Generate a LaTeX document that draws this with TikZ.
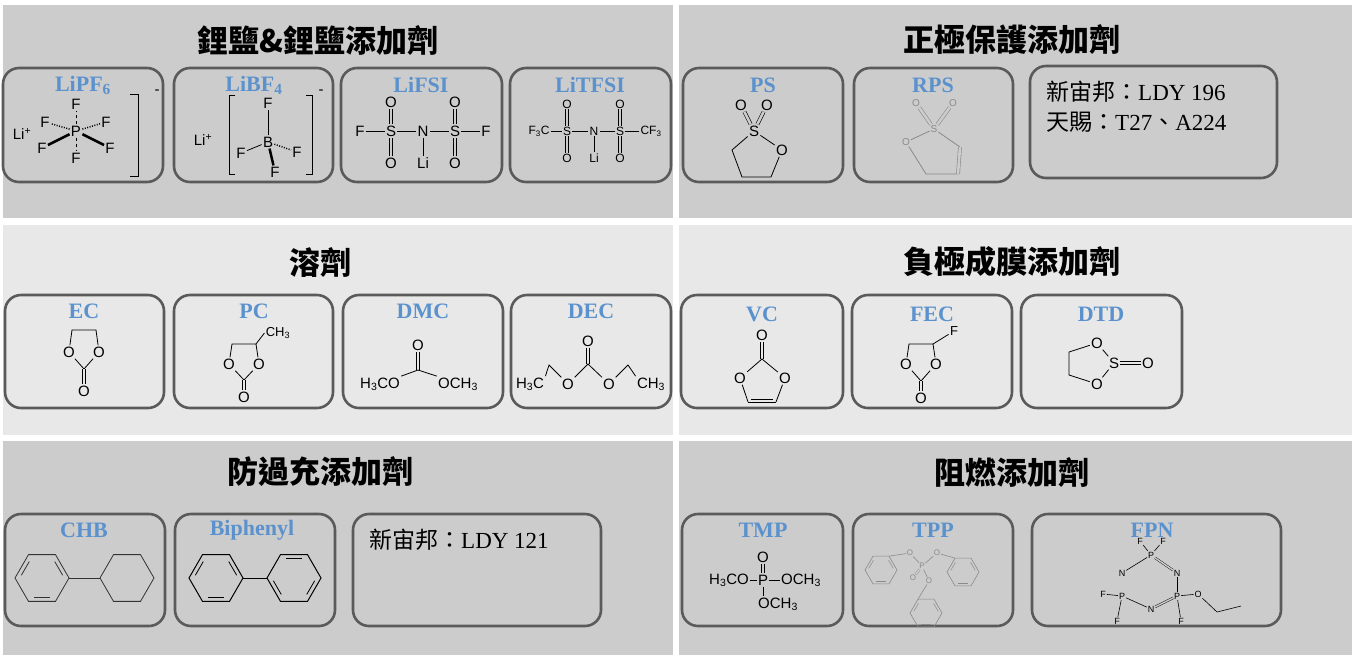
\documentclass[tikz,border=0pt]{standalone}
\usepackage{fontspec}
\setmainfont{Liberation Serif}
\newfontfamily\chemf{Liberation Sans}
\newfontfamily\cjk{Noto Sans CJK TC}
\definecolor{pg}{HTML}{CCCCCC}
\definecolor{pl}{HTML}{E8E8E8}
\definecolor{lb}{HTML}{5B92CD}
\definecolor{bx}{HTML}{5A5A5A}
\definecolor{gr}{HTML}{8A8A8A}
\tikzset{
 panel/.style={draw=none},
 box/.style={draw=bx, line width=2.6pt, rounded corners=16pt},
 lab/.style={text=lb, font=\fontsize{22}{22}\selectfont\bfseries, inner sep=0pt},
 ttl/.style={font=\fontsize{31}{31}\selectfont\cjk\bfseries, inner sep=0pt},
 txt/.style={font=\fontsize{23}{26}\selectfont, anchor=west, inner sep=0pt},
 chem/.style={font=\chemf\fontsize{15}{15}\selectfont, inner sep=1.2pt},
 sm/.style={font=\chemf\fontsize{10}{10}\selectfont, inner sep=0.8pt},
 bd/.style={line width=0.8pt},
 dbl/.style={double=#1, double distance=2.6pt, line width=0.6pt},
}
\newcommand\A[4][chem]{\node[#1] (#2) at #3 {#4};}
\newcommand\hexa[3]{% name, center, radius: vertices pointy left/right
 \coordinate (#1c) at #2;
 \foreach \i in {0,...,5}{\coordinate (#1\i) at ($#2+(\i*60:#3)$);}}
\newcommand\inner[4][bd]{% inner double-bond line between vertices
 \draw[#1] ($(#2#3)!0.2!(#2c)!0.12!(#2#4)$)--($(#2#4)!0.2!(#2c)!0.12!(#2#3)$);}
\usetikzlibrary{calc}
\begin{document}
\begin{tikzpicture}[x=1pt,y=-1pt]
\useasboundingbox (0,0) rectangle (1355,657);
\fill[white] (0,0) rectangle (1355,657);
% panels
\fill[pg] (3,5) rectangle (673,218);
\fill[pg] (679,5) rectangle (1352,218);
\fill[pl] (3,225) rectangle (673,435);
\fill[pl] (679,225) rectangle (1352,435);
\fill[pg] (3,441) rectangle (673,655);
\fill[pg] (679,441) rectangle (1352,655);
% titles
\node[ttl] (t1) at (318,40) {鋰鹽\&鋰鹽添加劑};
\node[ttl] (t2) at (1012,40) {正極保護添加劑};
\node[ttl] (t3) at (320,262) {溶劑};
\node[ttl] (t4) at (1012,262) {負極成膜添加劑};
\node[ttl] (t5) at (320,472) {防過充添加劑};
\node[ttl] (t6) at (1012,472) {阻燃添加劑};
% boxes
\draw[box] (3,68) rectangle (163,182);
\draw[box] (174,68) rectangle (333,182);
\draw[box] (341,68) rectangle (502,182);
\draw[box] (510,68) rectangle (671,182);
\draw[box] (683,68) rectangle (843,182);
\draw[box] (854,68) rectangle (1013,182);
\draw[box] (1030,66) rectangle (1277,178);
\draw[box] (5,295) rectangle (164,408);
\draw[box] (174,295) rectangle (333,408);
\draw[box] (343,295) rectangle (503,408);
\draw[box] (511,295) rectangle (671,408);
\draw[box] (681,295) rectangle (843,408);
\draw[box] (852,295) rectangle (1012,408);
\draw[box] (1021,295) rectangle (1182,408);
\draw[box] (5,514) rectangle (165,626);
\draw[box] (175,514) rectangle (335,626);
\draw[box] (353,514) rectangle (601,626);
\draw[box] (682,514) rectangle (843,626);
\draw[box] (853,514) rectangle (1013,626);
\draw[box] (1032,514) rectangle (1281,626);
% labels
\node[lab] (l1) at (83,85) {LiPF\textsubscript{6}};
\node[lab] (l2) at (254,85) {LiBF\textsubscript{4}};
\node[lab] (l3) at (421,85) {LiFSI};
\node[lab] (l4) at (590,85) {LiTFSI};
\node[lab] (l5) at (763,85) {PS};
\node[lab] (l6) at (933,85) {RPS};
\node[lab] (l7) at (84,311) {EC};
\node[lab] (l8) at (254,311) {PC};
\node[lab] (l9) at (423,311) {DMC};
\node[lab] (l10) at (591,311) {DEC};
\node[lab] (l11) at (762,314) {VC};
\node[lab] (l12) at (932,314) {FEC};
\node[lab] (l13) at (1101,314) {DTD};
\node[lab] (l14) at (84,530) {CHB};
\node[lab] (l15) at (252,530) {Biphenyl};
\node[lab] (l16) at (763,530) {TMP};
\node[lab] (l17) at (933,530) {TPP};
\node[lab] (l18) at (1152,530) {FPN};
% text boxes
\node[txt] (x1) at (1046,92) {{\cjk 新宙邦：}LDY 196};
\node[txt] (x2) at (1046,122) {{\cjk 天賜：}T27{\cjk 、}A224};
\node[txt] (x3) at (369,540) {{\cjk 新宙邦：}LDY 121};
% ---- LiPF6
\A{p}{(76,131)}{P}\A{ft}{(76,104)}{F}\A{fb}{(76,158)}{F}
\A{ful}{(45,122)}{F}\A{fll}{(42,148)}{F}\A{fur}{(106,122)}{F}\A{flr}{(110,148)}{F}
\A{li1}{(22,134)}{Li\textsuperscript{+}}
\draw[bd,dashed] (p)--(ft); \draw[bd,dashed] (p)--(fb);
\draw[bd,dash pattern=on 1pt off 1.5pt,line width=1.5pt] (p)--(ful);
\draw[bd,dash pattern=on 1pt off 1.5pt,line width=1.5pt] (p)--(fur);
\draw[line width=2.5pt] (p)--(fll); \draw[line width=2.5pt] (p)--(flr);
\coordinate (r1a) at (130,94);\coordinate (r1b) at (138,94);\coordinate (r1c) at (138,176);\coordinate (r1d) at (130,176);
\draw[bd] (r1a)--(r1b)--(r1c)--(r1d);
\A{m1}{(157,92)}{-}
% ---- LiBF4
\A{li2}{(203,140)}{Li\textsuperscript{+}}
\A{b}{(268,142)}{B}\A{bft}{(268,103)}{F}\A{bfl}{(241,153)}{F}\A{bfr}{(297,152)}{F}\A{bfb}{(275,172)}{F}
\draw[bd] (b)--(bft); \draw[bd] (b)--(bfl);
\draw[dash pattern=on 1pt off 1.5pt,line width=1.5pt] (b)--(bfr);
\draw[line width=2.5pt] (b)--(bfb);
\coordinate (r2a) at (235,95);\coordinate (r2b) at (229,95);\coordinate (r2c) at (229,174);\coordinate (r2d) at (235,174);
\draw[bd] (r2a)--(r2b)--(r2c)--(r2d);
\coordinate (r3a) at (306,95);\coordinate (r3b) at (312,95);\coordinate (r3c) at (312,174);\coordinate (r3d) at (306,174);
\draw[bd] (r3a)--(r3b)--(r3c)--(r3d);
\A{m2}{(321,92)}{-}
% ---- LiFSI
\A{s1}{(391,131)}{S}\A{n1}{(423,131)}{N}\A{s2}{(455,131)}{S}
\A{f1}{(360,131)}{F}\A{f2}{(486,131)}{F}
\A{o1}{(391,102)}{O}\A{o2}{(391,163)}{O}\A{o3}{(455,102)}{O}\A{o4}{(455,163)}{O}\A{lif}{(423,163)}{Li}
\draw[bd] (f1)--(s1)--(n1)--(s2)--(f2); \draw[bd] (n1)--(lif);
\foreach \o/\s in {o1/s1,o2/s1,o3/s2,o4/s2}{\draw[dbl=pg] (\o)--(\s);}
% ---- LiTFSI
\begin{scope}[every node/.style={font=\chemf\fontsize{12}{12}\selectfont, inner sep=1pt}]
\node (tc1) at (539,131) {F\textsubscript{3}C};
\node (ts1) at (567,131) {S};\node (tn) at (594,131) {N};\node (ts2) at (620,131) {S};
\node (tc2) at (651,131) {CF\textsubscript{3}};
\node (to1) at (567,104) {O};\node (to2) at (567,158) {O};\node (to3) at (620,104) {O};\node (to4) at (620,158) {O};
\node (tli) at (594,158) {Li};
\end{scope}
\draw[bd] (tc1)--(ts1)--(tn)--(ts2)--(tc2); \draw[bd] (tn)--(tli);
\foreach \o/\s in {to1/ts1,to2/ts1,to3/ts2,to4/ts2}{\draw[dbl=pg] (\o)--(\s);}
% ---- PS
\A{ps}{(754,131)}{S}\A{po1}{(741,105)}{O}\A{po2}{(767,105)}{O}\A{por}{(782,150)}{O}
\coordinate (pc1) at (732,150);\coordinate (pc2) at (742,177);\coordinate (pc3) at (771,177);
\draw[bd] (ps)--(pc1)--(pc2)--(pc3)--(por)--(ps);
\draw[dbl=pg] (po1)--(ps); \draw[dbl=pg] (po2)--(ps);
% ---- RPS
\begin{scope}[gr]
\A[sm]{rs}{(934,129)}{S}\A[sm]{ro1}{(916,103)}{O}\A[sm]{ro2}{(953,103)}{O}\A[sm]{rol}{(906,142)}{O}
\coordinate (rc1) at (960,147);\coordinate (rc2) at (958,174);\coordinate (rc3) at (926,174);
\draw[bd] (rol)--(rs)--(rc1); \draw[bd] (rc2)--(rc3)--(rol);
\draw[dbl=pg] (rc1)--(rc2);
\draw[dbl=pg] (ro1)--(rs); \draw[dbl=pg] (ro2)--(rs);
\end{scope}
% ---- EC
\A{eo1}{(69,352)}{O}\A{eo2}{(99,352)}{O}\A{eo}{(84,391)}{O}
\coordinate (ec1) at (72,330);\coordinate (ec2) at (96,330);\coordinate (ecc) at (84,369);
\draw[bd] (eo1)--(ec1)--(ec2)--(eo2)--(ecc)--(eo1); \draw[dbl=pl] (ecc)--(eo);
% ---- PC
\A{qo1}{(229,364)}{O}\A{qo2}{(259,364)}{O}\A{qo}{(244,397)}{O}
\coordinate (qc1) at (232,344);\coordinate (qc2) at (256,344);\coordinate (qcc) at (244,380);
\draw[bd] (qo1)--(qc1)--(qc2)--(qo2)--(qcc)--(qo1); \draw[dbl=pl] (qcc)--(qo);
\node[chem,font=\chemf\fontsize{13}{13}\selectfont] (qm) at (278,333) {CH\textsubscript{3}};
\draw[bd] (qc2)--(qm.west);
% ---- DMC
\A{do}{(418,345)}{O}\coordinate (dc) at (418,370);
\A{dl}{(380,384)}{H\textsubscript{3}CO}\A{dr}{(458,384)}{OCH\textsubscript{3}}
\draw[dbl=pl] (do)--(dc); \draw[bd] (dl.north east)--(dc)--(dr.north west);
% ---- DEC
\A{go}{(588,341)}{O}\coordinate (gc) at (588,364);
\A{gol}{(568,384)}{O}\A{gor}{(609,384)}{O}\A{gl}{(530,384)}{H\textsubscript{3}C}\A{gr}{(651,384)}{CH\textsubscript{3}}
\coordinate (ga) at (549,365);\coordinate (gb) at (628,365);
\draw[dbl=pl] (go)--(gc); \draw[bd] (gl.north east)--(ga)--(gol)--(gc)--(gor)--(gb)--(gr.north west);
% ---- VC
\A{vo}{(762,335)}{O}\coordinate (vc) at (762,359);
\A{vo1}{(740,378)}{O}\A{vo2}{(785,378)}{O}
\coordinate (vc1) at (748,402);\coordinate (vc2) at (776,402);
\draw[dbl=pl] (vo)--(vc); \draw[bd] (vo1)--(vc)--(vo2)--(vc2); \draw[bd] (vc1)--(vo1);
\draw[bd] (vc1)--(vc2); \draw[bd] ($(vc1)+(3,-3)$)--($(vc2)+(-3,-3)$);
% ---- FEC
\A{fo1}{(906,364)}{O}\A{fo2}{(936,364)}{O}\A{fo}{(921,398)}{O}
\coordinate (fc1) at (909,344);\coordinate (fc2) at (933,344);\coordinate (fcc) at (921,381);
\draw[bd] (fo1)--(fc1)--(fc2)--(fo2)--(fcc)--(fo1); \draw[dbl=pl] (fcc)--(fo);
\node[chem,font=\chemf\fontsize{13}{13}\selectfont] (ff) at (954,331) {F};\draw[bd] (fc2)--(ff);
% ---- DTD
\A{to}{(1097,343)}{O}\A{tb}{(1097,384)}{O}\A{tsn}{(1114,363)}{S}\A{te}{(1148,363)}{O}
\coordinate (td1) at (1069,352);\coordinate (td2) at (1069,375);
\draw[bd] (to)--(td1)--(td2)--(tb)--(tsn)--(to); \draw[bd] ([yshift=-1.5pt]tsn.east)--([yshift=-1.5pt]te.west); \draw[bd] ([yshift=1.5pt]tsn.east)--([yshift=1.5pt]te.west);
% ---- CHB
\begin{scope}[gray!40!black]
\hexa{ha}{(42,578)}{27}\hexa{hb}{(127,578)}{27}
\draw[bd] (ha0)--(ha1)--(ha2)--(ha3)--(ha4)--(ha5)--cycle;
\draw[bd] (hb0)--(hb1)--(hb2)--(hb3)--(hb4)--(hb5)--cycle;
\draw[bd] (ha0)--(hb3);
\inner{ha}{0}{5}\inner{ha}{1}{2}\inner{ha}{3}{4}
\end{scope}
% ---- Biphenyl
\hexa{hc}{(216,578)}{27}\hexa{hd}{(294,578)}{27}
\draw[bd,line width=1pt] (hc0)--(hc1)--(hc2)--(hc3)--(hc4)--(hc5)--cycle;
\draw[bd,line width=1pt] (hd0)--(hd1)--(hd2)--(hd3)--(hd4)--(hd5)--cycle;
\draw[bd,line width=1pt] (hc0)--(hd3);
\inner{hc}{0}{5}\inner{hc}{1}{2}\inner{hc}{3}{4}
\inner{hd}{0}{1}\inner{hd}{2}{3}\inner{hd}{4}{5}
% ---- TMP
\A{mo}{(763,557)}{O}\A{mp}{(763,580)}{P}\A{ml}{(729,580)}{H\textsubscript{3}CO}\A{mr}{(801,580)}{OCH\textsubscript{3}}\A{mb}{(778,604)}{OCH\textsubscript{3}}
\draw[dbl=pg] (mo)--(mp); \draw[bd] (ml)--(mp)--(mr); \draw[bd] (mp)--(mp|-mb.north);
% ---- TPP
\begin{scope}[gr, every node/.style={font=\chemf\fontsize{8}{8}\selectfont, inner sep=0.5pt}]
\node (pp) at (922,566) {P};\node (pa) at (910,553) {O};\node (pb) at (937,553) {O};
\node (pe) at (913,578) {O};\node (pd) at (929,581) {O};
\hexa{ta}{(881,570)}{16}\hexa{tb}{(963,572)}{16}\hexa{tc}{(926,613)}{16}
\foreach \h in {ta,tb,tc}{\draw[line width=0.6pt] (\h0)--(\h1)--(\h2)--(\h3)--(\h4)--(\h5)--cycle;
 \inner[line width=0.5pt]{\h}{0}{5}\inner[line width=0.5pt]{\h}{1}{2}\inner[line width=0.5pt]{\h}{3}{4}}
\draw[line width=0.6pt] (ta5)--(pa)--(pp)--(pb)--(tb4); \draw[line width=0.6pt] (pp)--(pd)--(tc4);
\draw[double=pg,double distance=1.5pt,line width=0.4pt] (pp)--(pe);
\end{scope}
% ---- FPN
\begin{scope}[every node/.style={font=\chemf\fontsize{9}{9}\selectfont, inner sep=0.8pt}]
\node (np1) at (1151,555) {P};\node (nn1) at (1177,573) {N};\node (np2) at (1177,596) {P};
\node (nn2) at (1151,609) {N};\node (np3) at (1122,596) {P};\node (nn3) at (1122,573) {N};
\node (nf1) at (1140,541) {F};\node (nf2) at (1163,541) {F};\node (nf3) at (1103,594) {F};
\node (nf4) at (1117,621) {F};\node (nf5) at (1181,621) {F};\node (no) at (1198,594) {O};
\end{scope}
\coordinate (ne1) at (1217,612);\coordinate (ne2) at (1241,606);
\draw[line width=0.6pt] (np1)--(nn3); \draw[line width=0.6pt] (nn1)--(np2); \draw[line width=0.6pt] (nn2)--(np3);
\draw[double=pg,double distance=1.5pt,line width=0.4pt] (np1)--(nn1);
\draw[double=pg,double distance=1.5pt,line width=0.4pt] (np2)--(nn2);
\draw[double=pg,double distance=1.5pt,line width=0.4pt] (np3)--(nn3);
\draw[line width=0.6pt] (np1)--(nf1); \draw[line width=0.6pt] (np1)--(nf2);
\draw[line width=0.6pt] (np3)--(nf3); \draw[line width=0.6pt] (np3)--(nf4);
\draw[line width=0.6pt] (np2)--(nf5); \draw[line width=0.6pt] (np2)--(no)--(ne1)--(ne2);
\end{tikzpicture}
\end{document}
